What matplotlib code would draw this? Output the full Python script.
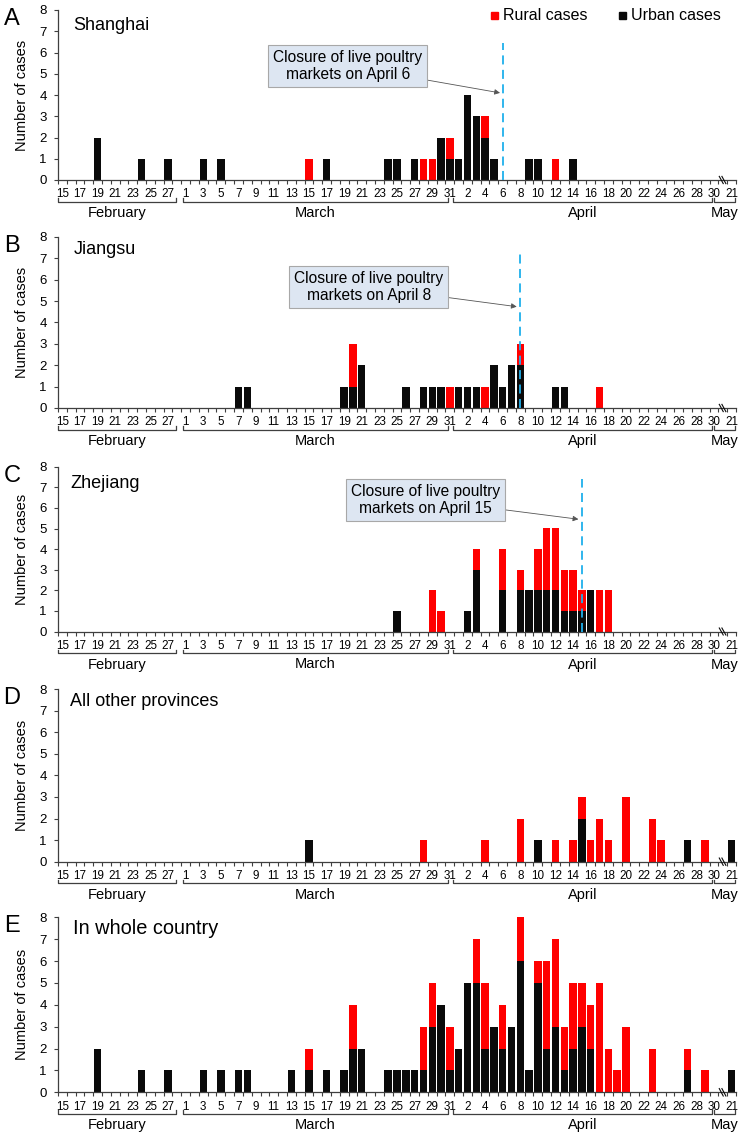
import matplotlib
matplotlib.use("Agg")
import matplotlib.pyplot as plt
from matplotlib.patches import Rectangle
from matplotlib.transforms import blended_transform_factory
import numpy as np

plt.rcParams['font.family'] = ['Liberation Sans', 'DejaVu Sans']

# category slots on the x axis: Feb 15-28, Mar 1-31, Apr 1-30, axis break, May 21
slot_keys = ([f"2-{d}" for d in range(15, 29)] + [f"3-{d}" for d in range(1, 32)]
             + [f"4-{d}" for d in range(1, 31)] + ["break", "5-21"])
slot_index = {k: i for i, k in enumerate(slot_keys)}

# labelled days
feb_labels = [15, 17, 19, 21, 23, 25, 27]
mar_labels = [1, 3, 5, 7, 9, 11, 13, 15, 17, 19, 21, 23, 25, 27, 29, 31]
apr_labels = [2, 4, 6, 8, 10, 12, 14, 16, 18, 20, 22, 24, 26, 28, 30]
may_labels = [21]
months = ["February", "March", "April", "May"]

# A Shanghai
sh_days = ["2-19", "2-24", "2-27", "3-3", "3-5", "3-15", "3-17", "3-24", "3-25", "3-27", "3-28", "3-29",
           "3-30", "3-31", "4-1", "4-2", "4-3", "4-4", "4-5", "4-9", "4-10", "4-12", "4-14"]
sh_urban = [2, 1, 1, 1, 1, 0, 1, 1, 1, 1, 0, 0, 2, 1, 1, 4, 3, 2, 1, 1, 1, 0, 1]
sh_rural = [0, 0, 0, 0, 0, 1, 0, 0, 0, 0, 1, 1, 0, 1, 0, 0, 0, 1, 0, 0, 0, 1, 0]

# B Jiangsu
js_days = ["3-7", "3-8", "3-19", "3-20", "3-21", "3-26", "3-28", "3-29", "3-30", "3-31", "4-1", "4-2",
           "4-3", "4-4", "4-5", "4-6", "4-7", "4-8", "4-12", "4-13", "4-17"]
js_urban = [1, 1, 1, 1, 2, 1, 1, 1, 1, 0, 1, 1, 1, 0, 2, 1, 2, 2, 1, 1, 0]
js_rural = [0, 0, 0, 2, 0, 0, 0, 0, 0, 1, 0, 0, 0, 1, 0, 0, 0, 1, 0, 0, 1]

# C Zhejiang
zj_days = ["3-25", "3-29", "3-30", "4-2", "4-3", "4-6", "4-8", "4-9", "4-10", "4-11", "4-12", "4-13",
           "4-14", "4-15", "4-16", "4-17", "4-18"]
zj_urban = [1, 0, 0, 1, 3, 2, 2, 2, 2, 2, 2, 1, 1, 1, 2, 0, 0]
zj_rural = [0, 2, 1, 0, 1, 2, 1, 0, 2, 3, 3, 2, 2, 1, 0, 2, 2]

# D all other provinces
ot_days = ["3-15", "3-28", "4-4", "4-8", "4-10", "4-12", "4-14", "4-15", "4-16", "4-17", "4-18", "4-20",
           "4-23", "4-24", "4-27", "4-29", "5-21"]
ot_urban = [1, 0, 0, 0, 1, 0, 0, 2, 0, 0, 0, 0, 0, 0, 1, 0, 1]
ot_rural = [0, 1, 1, 2, 0, 1, 1, 1, 1, 2, 1, 3, 2, 1, 0, 1, 0]

# E whole country
cn_days = ["2-19", "2-24", "2-27", "3-3", "3-5", "3-7", "3-8", "3-13", "3-15", "3-17",
           "3-19", "3-20", "3-21", "3-24", "3-25", "3-26", "3-27", "3-28", "3-29", "3-30",
           "3-31", "4-1", "4-2", "4-3", "4-4", "4-5", "4-6", "4-7", "4-8", "4-9",
           "4-10", "4-11", "4-12", "4-13", "4-14", "4-15", "4-16", "4-17", "4-18", "4-19",
           "4-20", "4-23", "4-27", "4-29", "5-21"]
cn_urban = [2, 1, 1, 1, 1, 1, 1, 1, 1, 1,
            1, 2, 2, 1, 1, 1, 1, 1, 3, 4,
            1, 2, 5, 5, 2, 3, 2, 3, 6, 1,
            5, 2, 3, 1, 2, 3, 2, 0, 0, 0,
            0, 0, 1, 0, 1]
cn_rural = [0, 0, 0, 0, 0, 0, 0, 0, 1, 0,
            0, 2, 0, 0, 0, 0, 0, 2, 2, 0,
            2, 0, 0, 2, 3, 0, 2, 0, 2, 0,
            1, 4, 4, 2, 3, 2, 2, 5, 2, 1,
            3, 2, 1, 1, 0]

panel_letters = ["A", "B", "C", "D", "E"]
panel_titles = ["Shanghai", "Jiangsu", "Zhejiang", "All other provinces", "In whole country"]
closure_days = ["4-6", "4-8", "4-15", None, None]

W, H = 745, 1139
AX_LEFT, AX_RIGHT = 58, 736
# (y of 0 line, y of 8 line) in pixels for each panel
panel_px = [(180, 10), (408, 237), (631.5, 466.7), (861.7, 689), (1092.3, 917.3)]
title_px = [(73, 26), (74, 250), (70, 483), (70, 702), (73, 929)]
title_size = [13, 13, 13, 13, 14.4]
# annotation box centre and arrow tip (slot, value)
note_box = [(32.4, 5.36), (34.8, 5.66), (41.2, 6.4)]
note_tip = [(49.7, 4.1), (51.6, 4.74), (58.6, 5.45)]
dash_top = [6.45, 7.4, 7.4]

RED = "#ff0000"
BLACK = "#0a0a0a"
AXC = "#3f3f3f"


def fy(py):
    return 1 - py / H


fig = plt.figure(figsize=(W / 100, H / 100), dpi=100)

tick_pos = ([slot_index[f"2-{d}"] for d in feb_labels] + [slot_index[f"3-{d}"] for d in mar_labels]
            + [slot_index[f"4-{d}"] for d in apr_labels] + [slot_index[f"5-{d}"] for d in may_labels])
tick_txt = [str(d) for d in feb_labels + mar_labels + apr_labels + may_labels]
brackets = [(-0.45, 12.9), (13.65, 43.8), (44.4, 73.75), (74.05, 76.4)]

data = [(sh_days, sh_urban, sh_rural), (js_days, js_urban, js_rural), (zj_days, zj_urban, zj_rural),
        (ot_days, ot_urban, ot_rural), (cn_days, cn_urban, cn_rural)]

for i, (days, urban, rural) in enumerate(data):
    y0, y8 = panel_px[i]
    ax = fig.add_axes([AX_LEFT / W, fy(y0), (AX_RIGHT - AX_LEFT) / W, (y0 - y8) / H])

    x = np.array([slot_index[d] for d in days])
    u = np.array(urban)
    r = np.array(rural)
    mu = u > 0
    mr = r > 0
    ax.bar(x[mu], u[mu], width=0.84, color=BLACK, linewidth=0, zorder=2)
    ax.bar(x[mr], r[mr], bottom=u[mr], width=0.84, color=RED, linewidth=0, zorder=2)

    ax.set_xlim(-0.5, len(slot_keys) - 0.5)
    ax.set_ylim(0, 8)
    ax.set_yticks(range(0, 9))
    ax.set_xticks(np.arange(-0.5, len(slot_keys)))
    ax.set_xticklabels([])
    ax.set_xticks(tick_pos, tick_txt, minor=True)
    ax.tick_params(axis='x', which='major', length=3, width=0.8, color=AXC)
    ax.tick_params(axis='x', which='minor', length=0, pad=6, labelsize=8.4)
    ax.tick_params(axis='y', length=3, width=0.8, color=AXC, labelsize=9.5, pad=5)
    for s in ["top", "right"]:
        ax.spines[s].set_visible(False)
    for s in ["left", "bottom"]:
        ax.spines[s].set_color(AXC)
        ax.spines[s].set_linewidth(0.9)
    ax.set_ylabel("Number of cases", fontsize=10.5)
    ax.yaxis.set_label_coords(-(58 - 29) / (AX_RIGHT - AX_LEFT), 0.5)

    # axis break marks
    bk = slot_index["break"]
    for dx in (-0.15, 0.15):
        ax.plot([bk + dx - 0.25, bk + dx + 0.2], [0.17, -0.17], color=BLACK, lw=0.8,
                clip_on=False, zorder=5)

    # month brackets under the day labels
    tr = blended_transform_factory(ax.transData, fig.transFigure)
    for (a, b), name in zip(brackets, months):
        yb = fy(y0 + 21.5)
        yt = fy(y0 + 18)
        ax.plot([a, a, b, b], [yt, yb, yb, yt], transform=tr, color=AXC, lw=0.9, clip_on=False)
        ax.text((a + b) / 2, fy(y0 + 33), name, transform=tr, ha='center', va='center',
                fontsize=10.5)

    fig.text(12 / W, fy(y8 + 9), panel_letters[i], fontsize=17, ha='center', va='center')
    tx, ty = title_px[i]
    fig.text(tx / W, fy(ty), panel_titles[i], fontsize=title_size[i], va='center')

    if closure_days[i] is not None:
        cx = slot_index[closure_days[i]]
        ax.plot([cx, cx], [0, dash_top[i]], color="#1fb0ec", lw=1.3, ls=(0, (5, 3)), zorder=3)
        ax.annotate(f"Closure of live poultry\nmarkets on April {closure_days[i].split('-')[1]}",
                    xy=note_tip[i], xytext=note_box[i], ha='center', va='center',
                    fontsize=11.2, linespacing=1.15,
                    bbox=dict(boxstyle='square,pad=0.32', fc='#dde6f2', ec='#a8a8a8', lw=0.8),
                    arrowprops=dict(arrowstyle='-|>', color='#555555', lw=0.6,
                                    mutation_scale=8, shrinkA=0, shrinkB=0))

# legend
fig.add_artist(Rectangle((491 / W, fy(19)), 7 / W, 7 / H, color=RED, transform=fig.transFigure))
fig.text(503 / W, fy(15), "Rural cases", fontsize=11.5, va='center')
fig.add_artist(Rectangle((619 / W, fy(19)), 7 / W, 7 / H, color=BLACK, transform=fig.transFigure))
fig.text(631 / W, fy(15), "Urban cases", fontsize=11.5, va='center')

fig.savefig("out.png", dpi=100)
